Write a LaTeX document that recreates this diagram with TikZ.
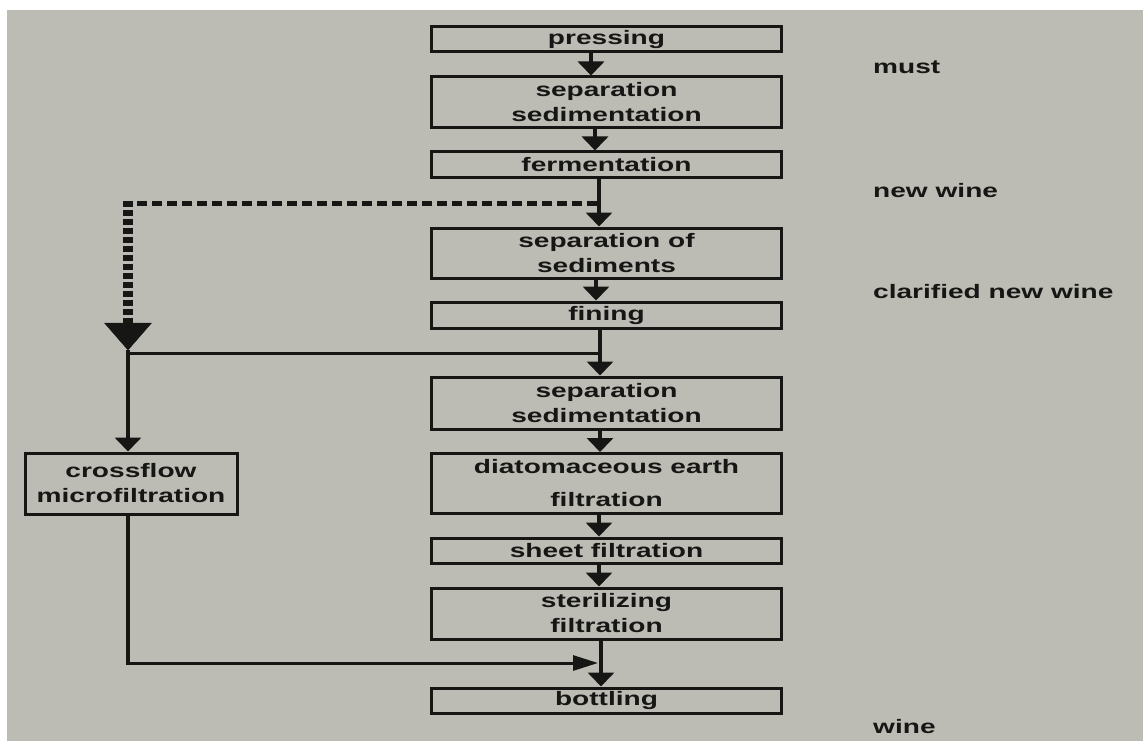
\documentclass[tikz,border=0pt]{standalone}
\usepackage{fontspec}
\usetikzlibrary{arrows.meta}
\newfontfamily\lab{Liberation Sans}[FakeStretch=1.44,UprightFont={* Bold}]
\definecolor{bg}{RGB}{189,188,180}
\definecolor{ink}{RGB}{22,22,20}
\begin{document}
\begin{tikzpicture}[x=1pt,y=-1pt,
  box/.style={draw=ink, line width=3pt, minimum width=350pt, inner sep=0pt,
    align=center, text=ink, font=\lab\fontsize{19.5}{25}\selectfont},
  lbl/.style={anchor=base west, inner sep=0pt, text=ink, font=\lab\fontsize{19.5}{25}\selectfont},
  vline/.style={draw=ink, line width=4pt},
  hline/.style={draw=ink, line width=3pt},
  flow/.style={vline, -{Triangle[width=26pt,length=14pt]}},
  hflow/.style={hline, -{Triangle[width=15pt,length=25pt]}},
  doth/.style={draw=ink, line width=5pt, dash pattern=on 10pt off 5pt},
  dotv/.style={draw=ink, line width=10pt, dash pattern=on 6pt off 3pt}
]
\useasboundingbox (0,0) rectangle (1143,741);
\fill[white] (0,0) rectangle (1143,741);
\fill[bg] (7,10) rectangle (1143,741);

% main column
\node[box, minimum height=25pt] (p)  at (606.5,39.5)  {pressing};
\node[box, minimum height=51pt] (s1) at (606.5,102.5) {separation\\sedimentation};
\node[box, minimum height=25pt] (f)  at (606.5,164.5) {fermentation};
\node[box, minimum height=50pt] (ss) at (606.5,253)   {separation of\\sediments};
\node[box, minimum height=26pt] (fi) at (606.5,315)   {fining};
\node[box, minimum height=52pt] (s2) at (606.5,403)   {separation\\sedimentation};
\node[box, minimum height=60pt] (d)  at (606.5,483.5) {diatomaceous earth\\[8pt]filtration};
\node[box, minimum height=25pt] (sh) at (606.5,550.5) {sheet filtration};
\node[box, minimum height=51pt] (st) at (606.5,613.5) {sterilizing\\filtration};
\node[box, minimum height=25pt] (b)  at (606.5,700.5) {bottling};
\node[box, minimum width=212pt, minimum height=61pt] (cf) at (131,483.5) {crossflow\\microfiltration};

% side labels
\node[lbl] (l1) at (873,74)  {must};
\node[lbl] (l2) at (873,197) {new wine};
\node[lbl] (l3) at (873,298) {clarified new wine};
\node[lbl] (l4) at (873,733) {wine};

% junction coordinates
\coordinate (d1) at (597,203);
\coordinate (j1) at (128,203);
\coordinate (j2) at (128,350);
\coordinate (j3) at (600,353);
\coordinate (j4) at (128,663);
\coordinate (j5) at (598,663);

% main flow arrows
\draw[flow] ([xshift=-15.5pt]p.south)  -- ([xshift=-15.5pt]s1.north);
\draw[flow] ([xshift=-11.5pt]s1.south) -- ([xshift=-11.5pt]f.north);
\draw[flow] ([xshift=-7.5pt]f.south)   -- ([xshift=-7.5pt]ss.north);
\draw[flow] ([xshift=-10.5pt]ss.south) -- ([xshift=-10.5pt]fi.north);
\draw[flow] ([xshift=-6.5pt]fi.south)  -- ([xshift=-6.5pt]s2.north);
\draw[flow] ([xshift=-6.5pt]s2.south)  -- ([xshift=-6.5pt]d.north);
\draw[flow] ([xshift=-7.5pt]d.south)   -- ([xshift=-7.5pt]sh.north);
\draw[flow] ([xshift=-7.5pt]sh.south)  -- ([xshift=-7.5pt]st.north);
\draw[flow] ([xshift=-5.5pt]st.south)  -- ([xshift=-5.5pt]b.north);

% dotted bypass with large arrowhead
\draw[doth] (d1) -- ([xshift=-2.5pt]j1);
\draw[dotv] ([yshift=2.5pt]j1) -- ([yshift=26pt]j2);
\draw[draw=ink, fill=ink, line join=round] ([xshift=-23.5pt,yshift=27pt]j2) -- ([xshift=23.5pt,yshift=27pt]j2) -- (j2) -- cycle;

% merge line and crossflow branch
\draw[hline] (j2 |- j3) -- (j3);
\draw[flow] (j2) -- (j2 |- cf.north);
\draw[vline] (cf.south -| j4) -- ([yshift=-1.5pt]j4);
\draw[hflow] ([xshift=-2pt]j4) -- (j5);
\end{tikzpicture}
\end{document}
